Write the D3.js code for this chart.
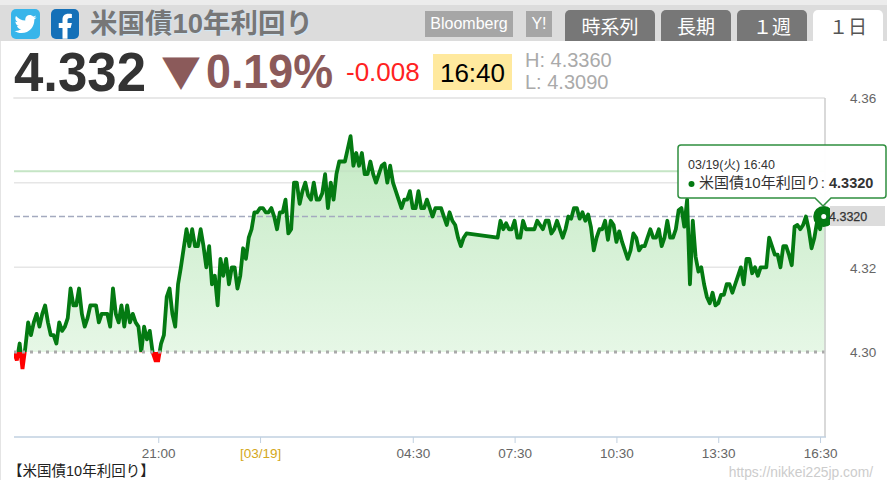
<!DOCTYPE html>
<html lang="ja"><head><meta charset="utf-8">
<script src="https://cdn.jsdelivr.net/npm/d3@7"></script>
<style>html,body{margin:0;padding:0;background:#fff;overflow:hidden}svg{display:block}
text{font-family:"Liberation Sans","Noto Sans CJK JP",sans-serif}</style></head><body>
<svg id="c" width="887" height="480"></svg>
<script>
// 5-minute samples starting 03/18 16:45; null = no quotes
const startTime = new Date(2024,2,18,16,45), stepMinutes = 5;
const endTime = new Date(2024,2,19,16,40);
const yields = [
4.300,4.298,4.302,4.296,4.301,4.307,4.304,4.307,4.309,4.306,4.309,4.311,4.307,4.304,4.304,4.302,4.307,4.305,4.306,4.308,
4.315,4.311,4.311,4.315,4.309,4.306,4.308,4.311,4.311,4.311,4.307,4.309,4.309,4.309,4.306,4.315,4.309,4.307,4.311,4.306,
4.311,4.307,4.309,4.307,4.306,4.300,4.306,4.303,4.305,4.300,4.298,4.298,4.302,4.304,4.313,4.315,4.309,4.306,4.316,4.320,
4.3245,4.329,4.325,4.329,4.325,4.325,4.329,4.325,4.320,4.325,4.316,4.318,4.311,4.322,4.318,4.322,4.316,4.320,4.320,4.315,
4.318,4.3245,4.322,4.327,4.329,4.333,4.333,4.334,4.334,4.333,4.333,4.334,4.332,4.329,4.333,4.333,4.336,4.328,4.329,4.340,
4.340,4.335,4.338,4.340,4.337,4.336,4.340,4.336,4.336,4.3375,4.342,4.334,4.340,4.336,4.342,4.345,4.345,4.345,4.348,4.351,
4.344,4.347,4.344,4.347,4.342,4.342,4.345,4.342,4.340,4.342,4.344,4.3445,4.340,4.344,4.340,4.338,4.336,4.334,4.336,4.336,
4.338,4.334,4.334,4.338,4.334,4.334,4.336,4.334,4.332,4.334,4.334,4.334,4.332,4.330,4.333,4.331,4.330,4.327,4.325,4.327,
4.328,null,null,null,null,null,null,null,null,null,null,4.327,4.331,4.329,4.3304,4.329,4.329,4.331,4.327,4.327,
4.331,4.329,4.329,4.329,4.329,4.331,4.330,4.329,4.331,4.331,4.328,4.329,4.331,4.329,4.327,4.329,4.332,4.3315,4.334,4.334,
4.3315,4.333,4.331,4.3325,4.3295,4.324,4.327,4.329,4.329,4.331,4.3265,4.331,4.330,4.326,4.3285,4.326,4.324,4.322,4.324,4.328,
4.327,4.324,4.325,4.325,4.327,4.329,4.327,4.327,4.329,4.325,4.327,4.331,4.327,4.327,4.329,4.3335,4.334,4.3296,4.336,4.316,
4.331,4.3225,4.319,4.320,4.316,4.313,4.3115,4.314,4.311,4.3115,4.3135,4.3135,4.316,4.316,4.314,4.316,4.318,4.320,4.316,4.322,
4.322,4.3186,4.320,4.318,4.320,4.320,4.320,4.327,4.325,4.323,4.323,4.320,4.325,4.325,4.323,4.3205,4.3296,4.330,4.329,4.330,
4.332,4.329,4.3245,4.327,4.331,4.329,4.3324,4.332];
const gridValues = [4.36,4.34,4.32];
const yTickValues = [4.36,4.32,4.30];
const yTickLabels = ["4.36","4.32","4.30"];
const xTickTimes = [new Date(2024,2,18,21,0),new Date(2024,2,19,0,0),new Date(2024,2,19,4,30),new Date(2024,2,19,7,30),new Date(2024,2,19,10,30),new Date(2024,2,19,13,30),new Date(2024,2,19,16,30)];
const xTickLabels = ["21:00","[03/19]","04:30","07:30","10:30","13:30","16:30"];
const baseValue = 4.30, currentValue = 4.332, referenceValue = 4.3427;
const title = "米国債10年利回り";
const tabs = [["時系列",565,90],["長期",661,70],["１週",737,70],["１日",813,70]];

const points = yields.map((v,i)=>({t:d3.timeMinute.offset(startTime,i*stepMinutes),v})).filter(d=>d.v!==null);
const svg = d3.select("#c");
const x = d3.scaleTime().domain([startTime,endTime]).range([14,825.7]);
const y = d3.scaleLinear().domain([4.30,4.36]).range([352,98]);
const W=887,H=480;
const defs = svg.append("defs");
const grad = defs.append("linearGradient").attr("id","g").attr("gradientUnits","userSpaceOnUse").attr("x1",0).attr("x2",0).attr("y1",y(4.351)).attr("y2",y(baseValue));
grad.append("stop").attr("offset",0).attr("stop-color","#c4eac4");
grad.append("stop").attr("offset",1).attr("stop-color","#e6f7e6");
defs.append("clipPath").attr("id","above").append("rect").attr("x",14).attr("y",98).attr("width",812).attr("height",y(baseValue)-98);
defs.append("clipPath").attr("id","below").append("rect").attr("x",14).attr("y",y(baseValue)).attr("width",812).attr("height",40);

// page furniture
svg.append("rect").attr("width",W).attr("height",H).attr("fill","#fff");
svg.append("rect").attr("width",W).attr("height",5).attr("fill","#ececec");
svg.append("rect").attr("y",5).attr("width",W).attr("height",36).attr("fill","#dcdcdc");
svg.append("rect").attr("y",41).attr("width",1).attr("height",H-41).attr("fill","#e4e4e4");
// icons
svg.append("rect").attr("x",11).attr("y",9).attr("width",29).attr("height",30).attr("rx",5).attr("fill","#38b5ea");
svg.append("path").attr("transform","translate(14.5,13) scale(0.92)").attr("fill","#fff")
 .attr("d","M23.954 4.569c-.885.389-1.83.654-2.825.775 1.014-.611 1.794-1.574 2.163-2.723-.951.555-2.005.959-3.127 1.184-.896-.959-2.173-1.559-3.591-1.559-2.717 0-4.92 2.203-4.92 4.917 0 .39.045.765.127 1.124C7.691 8.094 4.066 6.13 1.64 3.161c-.427.722-.666 1.561-.666 2.475 0 1.71.87 3.213 2.188 4.096-.807-.026-1.566-.248-2.228-.616v.061c0 2.385 1.693 4.374 3.946 4.827-.413.111-.849.171-1.296.171-.314 0-.615-.03-.916-.086.631 1.953 2.445 3.377 4.604 3.417-1.68 1.319-3.809 2.105-6.102 2.105-.39 0-.779-.023-1.17-.067 2.189 1.394 4.768 2.209 7.557 2.209 9.054 0 13.999-7.496 13.999-13.986 0-.209 0-.42-.015-.63.961-.689 1.8-1.56 2.46-2.548l-.047-.02z");
svg.append("rect").attr("x",51).attr("y",9).attr("width",28).attr("height",30).attr("rx",5).attr("fill","#1470b8");
svg.append("path").attr("transform","translate(50,11.2) scale(1.25)").attr("fill","#fff")
 .attr("d","M14 13.5h2.5l1-4H14v-2c0-1.03 0-2 2-2h1.5V2.14c-.326-.043-1.557-.14-2.857-.14C11.928 2 10 3.657 10 6.7v2.8H7v4h3V22h4v-8.5z");
// title
svg.append("text").attr("x",90).attr("y",33).attr("font-size",27.5).attr("font-weight","bold").attr("fill","#777").style("text-shadow","1px 1px 1px #cfe6f5").text(title);
// source badges
svg.append("rect").attr("x",425).attr("y",11).attr("width",88).attr("height",26).attr("fill","#a6a6a6");
svg.append("text").attr("x",469).attr("y",29).attr("text-anchor","middle").attr("font-size",16).attr("fill","#fff").text("Bloomberg");
svg.append("rect").attr("x",526).attr("y",11).attr("width",26).attr("height",26).attr("fill","#a6a6a6");
svg.append("text").attr("x",539).attr("y",29).attr("text-anchor","middle").attr("font-size",16).attr("fill","#fff").text("Y!");
// tabs
tabs.forEach(([label,tx,tw],i)=>{
  const last=i===tabs.length-1;
  svg.append("path").attr("fill",last?"#fff":"#777").attr("d",`M${tx},41V15a5,5 0 0 1 5,-5H${tx+tw-5}a5,5 0 0 1 5,5V41Z`);
  svg.append("text").attr("x",tx+tw/2).attr("y",34).attr("text-anchor","middle").attr("font-size",19).attr("fill",last?"#555":"#fff").text(label);
});
// quote row
svg.append("text").attr("x",14).attr("y",91).attr("font-size",56).attr("font-weight","bold").attr("fill","#333").attr("textLength",132).attr("lengthAdjust","spacingAndGlyphs").text("4.332");
svg.append("text").attr("x",161).attr("y",87).attr("font-size",40).attr("fill","#8b5a5a").style("font-family","'Noto Sans CJK JP'").text("▼");
svg.append("text").attr("x",206).attr("y",88).attr("font-size",48).attr("font-weight","bold").attr("fill","#8b5a5a").attr("textLength",127).attr("lengthAdjust","spacingAndGlyphs").text("0.19%");
svg.append("text").attr("x",346).attr("y",81).attr("font-size",26).attr("fill","#f22").text("-0.008");
svg.append("rect").attr("x",433).attr("y",54).attr("width",79).attr("height",36).attr("fill","#ffe99e");
svg.append("text").attr("x",472.5).attr("y",82).attr("text-anchor","middle").attr("font-size",26).attr("fill","#000").text("16:40");
svg.append("text").attr("x",525).attr("y",67).attr("font-size",20).attr("fill","#aaa").text("H: 4.3360");
svg.append("text").attr("x",525).attr("y",89).attr("font-size",20).attr("fill","#aaa").text("L:  4.3090");
svg.append("rect").attr("x",13).attr("y",97).attr("width",811).attr("height",2).attr("fill","#f0f0f0");

// grid
svg.append("g").selectAll("line").data(gridValues).join("line")
 .attr("x1",14).attr("x2",825).attr("y1",d=>y(d)).attr("y2",d=>y(d)).attr("stroke","#e6e6e6").attr("stroke-width",1.5);

// area and line
const area = d3.area().x(d=>x(d.t)).y0(y(baseValue)).y1(d=>y(d.v));
const line = d3.line().x(d=>x(d.t)).y(d=>y(d.v));
svg.append("path").datum(points).attr("d",area).attr("fill","url(#g)").attr("clip-path","url(#above)");
svg.append("path").datum(points).attr("d",area).attr("fill","#f00").attr("clip-path","url(#below)");
svg.append("line").attr("x1",14).attr("x2",826).attr("y1",y(referenceValue)).attr("y2",y(referenceValue)).attr("stroke","#c5e5c5").attr("stroke-width",2);
svg.append("line").attr("x1",14).attr("x2",825).attr("y1",y(currentValue)).attr("y2",y(currentValue)).attr("stroke","#a4aabf").attr("stroke-width",1.5).attr("stroke-dasharray","6,3");
svg.append("path").datum(points).attr("d",line).attr("fill","none").attr("stroke","#047a12").attr("stroke-width",3.8).attr("stroke-linejoin","round").attr("clip-path","url(#above)");
svg.append("path").datum(points).attr("d",line).attr("fill","none").attr("stroke","#f00").attr("stroke-width",3.8).attr("clip-path","url(#below)");
svg.append("line").attr("x1",14).attr("x2",825).attr("y1",y(baseValue)).attr("y2",y(baseValue)).attr("stroke","#aaa").attr("stroke-width",3).attr("stroke-dasharray","3,5");

// axes
svg.append("line").attr("x1",825).attr("x2",825).attr("y1",98).attr("y2",437).attr("stroke","#ccc").attr("stroke-width",1.5);
const xAxis = d3.axisBottom(x).tickValues(xTickTimes).tickFormat((d,i)=>xTickLabels[i]).tickSize(6).tickPadding(5);
const gx = svg.append("g").attr("transform","translate(0,437)").call(xAxis);
gx.select(".domain").attr("stroke","#c0d0e0").attr("stroke-width",1.5).attr("d","M14,0H826");
gx.selectAll(".tick line").attr("stroke","#c0d0e0");
gx.selectAll(".tick text").attr("font-family",null).attr("font-size",13.5).attr("fill",(d,i)=>i===1?"#d4a820":"#666");
const yAxis = d3.axisRight(y).tickValues(yTickValues).tickFormat((d,i)=>yTickLabels[i]).tickSize(0).tickPadding(0);
const gy = svg.append("g").attr("transform","translate(850,0.5)").call(yAxis);
gy.select(".domain").remove();
gy.selectAll(".tick text").attr("font-size",13.5).attr("fill","#666");

// current marker and label
const endPt = points[points.length-1];
svg.append("circle").attr("cx",x(endPt.t)-2).attr("cy",y(currentValue)).attr("r",6.5).attr("fill","#fff").attr("stroke","#047a12").attr("stroke-width",8);
svg.append("rect").attr("x",830).attr("y",206).attr("width",55).attr("height",20).attr("fill","#dcdcdc");
svg.append("text").attr("x",829).attr("y",220.5).attr("font-size",12.5).attr("fill","#333").attr("stroke","#333").attr("stroke-width",0.25).text("4.3320");

// tooltip
svg.append("path").attr("d","M681,145H883a3,3 0 0 1 3,3V195a3,3 0 0 1 -3,3H831L823,206L815,198H681a3,3 0 0 1 -3,-3V148a3,3 0 0 1 3,-3Z")
 .attr("fill","#fff").attr("fill-opacity",0.97).attr("stroke","#2f8f3f").attr("stroke-width",1.5);
svg.append("text").attr("x",688).attr("y",169).attr("font-size",12.5).attr("fill","#333").text("03/19(火) 16:40");
svg.append("circle").attr("cx",691.5).attr("cy",184).attr("r",3).attr("fill","#047a12");
const tt = svg.append("text").attr("x",699).attr("y",188).attr("font-size",15).attr("fill","#333");
tt.append("tspan").text(title+": ");
tt.append("tspan").attr("font-weight","bold").attr("font-size",14.5).text("4.3320");

// footer
svg.append("text").attr("x",8).attr("y",476).attr("font-size",14.5).attr("fill","#222").text("【"+title+"】");
svg.append("text").attr("x",873).attr("y",477).attr("text-anchor","end").attr("font-size",13.8).attr("fill","#ccc").text("https://nikkei225jp.com/");
</script></body></html>
